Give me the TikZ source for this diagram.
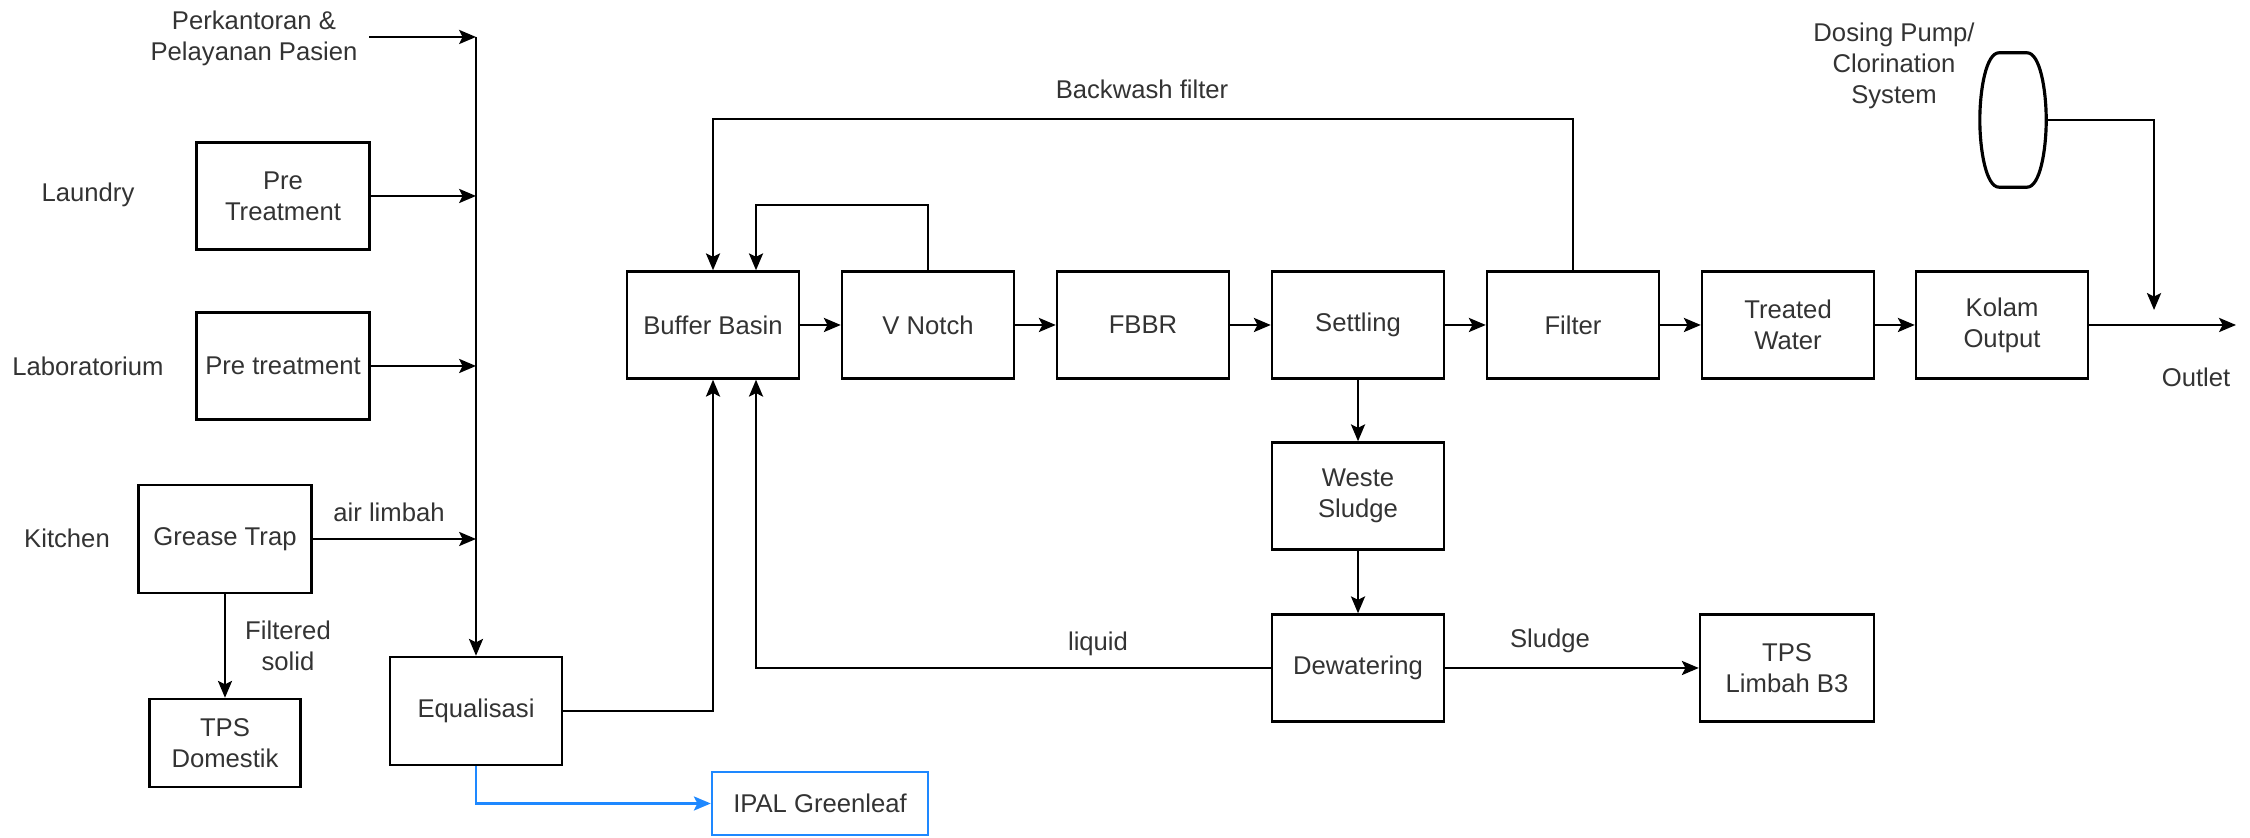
\documentclass[tikz,border=0pt]{standalone}
\usepackage{fontspec}
\setmainfont{Liberation Sans}
\usetikzlibrary{arrows.meta,positioning}
\definecolor{ipalblue}{HTML}{1E88FF}
\definecolor{txt}{HTML}{333333}
\tikzstyle{unit}  = [rectangle, draw=black, line width=0.7pt, minimum width=1.72cm, minimum height=1.07cm, inner sep=1pt, align=center, text=txt]
\tikzstyle{lbl}   = [align=center, text=txt, inner sep=1pt]
\tikzstyle{arrow} = [line width=0.7pt, -{Stealth[length=4.8pt,width=4pt,inset=1pt]}]

\begin{document}
\begin{tikzpicture}[font=\fontsize{7.3}{8.8}\selectfont]
	\useasboundingbox (0,0) rectangle (22.5,8.38);

	% sources on the left
	\node[lbl] (perk) at (2.54,8.00) {Perkantoran \&\\Pelayanan Pasien};
	\node[lbl] (laundry) at (0.88,6.43) {Laundry};
	\node[lbl] (lab) at (0.88,4.72) {Laboratorium};
	\node[lbl] (kitchen) at (0.67,3.00) {Kitchen};

	\node[unit, minimum width=1.73cm] (pre1) at (2.83,6.42) {Pre\\Treatment};
	\node[unit, minimum width=1.73cm] (pre2) at (2.83,4.72) {Pre treatment};
	\node[unit, minimum width=1.73cm, minimum height=1.08cm] (grease) at (2.25,2.99) {Grease Trap};
	\node[unit, minimum width=1.51cm, minimum height=0.88cm] (tpsdom) at (2.25,0.95) {TPS\\Domestik};
	\node[unit, minimum height=1.08cm] (equal) at (4.76,1.27) {Equalisasi};
	\node[unit, draw=ipalblue, minimum width=2.16cm, minimum height=0.63cm] (ipal) at (8.20,0.345) {IPAL Greenleaf};

	% main treatment line
	\node[unit] (buffer) at (7.13,5.13) {Buffer Basin};
	\node[unit] (vnotch) at (9.28,5.13) {V Notch};
	\node[unit] (fbbr) at (11.43,5.13) {FBBR};
	\node[unit] (settling) at (13.58,5.13) {Settling};
	\node[unit] (filter) at (15.73,5.13) {Filter};
	\node[unit] (treated) at (17.88,5.13) {Treated\\Water};
	\node[unit] (kolam) at (20.02,5.13) {Kolam\\Output};

	% sludge line
	\node[unit] (weste) at (13.58,3.42) {Weste\\Sludge};
	\node[unit] (dewater) at (13.58,1.70) {Dewatering};
	\node[unit, minimum width=1.74cm] (tpsb3) at (17.87,1.70) {TPS\\Limbah B3};

	% dosing pump
	\node[minimum width=0.65cm, minimum height=1.33cm, inner sep=0pt] (dosing) at (20.13,7.18) {};
	\draw[line width=0.9pt] ([xshift=-0.14cm]dosing.north) -- ([xshift=0.14cm]dosing.north)
		.. controls ([xshift=0.27cm]dosing.north) and ([yshift=0.30cm]dosing.east) .. (dosing.east)
		.. controls ([yshift=-0.30cm]dosing.east) and ([xshift=0.27cm]dosing.south) .. ([xshift=0.14cm]dosing.south)
		-- ([xshift=-0.14cm]dosing.south)
		.. controls ([xshift=-0.27cm]dosing.south) and ([yshift=-0.30cm]dosing.west) .. (dosing.west)
		.. controls ([yshift=0.30cm]dosing.west) and ([xshift=-0.27cm]dosing.north) .. ([xshift=-0.14cm]dosing.north);
	\node[lbl] (dosetxt) at (18.94,7.72) {Dosing Pump/\\Clorination\\System};

	% labels on the flows
	\node[lbl] (airl) at (3.89,3.26) {air limbah};
	\node[lbl] (filt) at (2.88,1.92) {Filtered\\solid};
	\node[lbl] (bwl) at (11.42,7.49) {Backwash filter};
	\node[lbl] (liq) at (10.98,1.94) {liquid};
	\node[lbl] (sludge) at (15.50,1.97) {Sludge};
	\node[lbl] (outl) at (21.96,4.61) {Outlet};

	\coordinate (perkout) at (3.69,8.01);
	\coordinate (j0) at (4.76,8.01);
	\coordinate (dose) at (21.54,5.28);
	\coordinate (outlet) at (22.36,5.13);

	% collecting channel
	\draw[arrow] (perkout) -- (j0);
	\draw[arrow] (j0) -- (equal.north);
	\draw[arrow] (pre1.east) -- (pre1.east -| j0);
	\draw[arrow] (pre2.east) -- (pre2.east -| j0);
	\draw[arrow] (grease.east) -- (grease.east -| j0);
	\draw[arrow] (grease.south) -- (tpsdom.north);
	\draw[arrow, ipalblue] (equal.south) |- (ipal.west);
	\draw[arrow] (equal.east) -| (buffer.south);

	% treatment line
	\draw[arrow] (buffer) -- (vnotch);
	\draw[arrow] (vnotch) -- (fbbr);
	\draw[arrow] (fbbr) -- (settling);
	\draw[arrow] (settling) -- (filter);
	\draw[arrow] (filter) -- (treated);
	\draw[arrow] (treated) -- (kolam);
	\draw[arrow] (kolam.east) -- (outlet);
	\draw[arrow] (dosing.east) -| (dose);

	% return lines
	\draw[arrow] (filter.north) -- ++(0,1.51) -| (buffer.north);
	\draw[arrow] (vnotch.north) -- ++(0,0.65) -| ([xshift=0.43cm]buffer.north);
	\draw[arrow] (dewater.west) -| ([xshift=0.43cm]buffer.south);

	% sludge handling
	\draw[arrow] (settling) -- (weste);
	\draw[arrow] (weste) -- (dewater);
	\draw[arrow] (dewater) -- (tpsb3);
\end{tikzpicture}
\end{document}
